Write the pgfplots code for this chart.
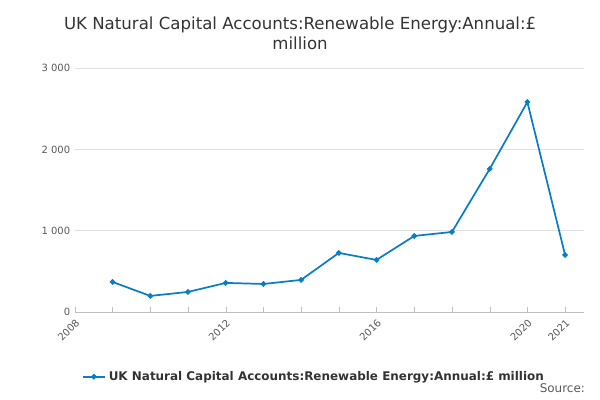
\documentclass[border=0pt]{standalone}
\usepackage{pgfplots}
\pgfplotsset{compat=1.18}
\usepackage{fontspec}
\setmainfont{DejaVu Sans}
\definecolor{ln}{HTML}{0A7EC2}
\begin{document}
\begin{tikzpicture}
\path[use as bounding box] (0,0) rectangle (15.875cm,10.583cm);
\node[align=center,font=\fontsize{12.5}{15}\selectfont,text=black!80] at (7.94cm,9.7cm) {UK Natural Capital Accounts:Renewable Energy:Annual:£\\million};
\begin{axis}[at={(1.98cm,2.33cm)},anchor=south west,width=13.47cm,height=6.45cm,scale only axis,
 xmin=2008,xmax=2021.5,ymin=0,ymax=3000,
 xtick={2008,2012,2016,2020,2021},xticklabels={2008,2012,2016,2020,2021},
 minor xtick={2009,2010,2011,2013,2014,2015,2017,2018,2019},
 ytick={0,1000,2000,3000},yticklabels={0,1 000,2 000,3 000},
 ymajorgrids,grid style={black!12},
 axis y line*=left,axis x line*=bottom,
 y axis line style={draw=none},
 x axis line style={black!25},
 major tick length=4pt,minor tick length=4pt,
 xtick style={black!25},ytick style={draw=none},
 minor tick style={black!25},
 xticklabel style={rotate=45,anchor=north east,font=\fontsize{7.5}{9}\selectfont,text=black!65},
 yticklabel style={font=\fontsize{7.5}{9}\selectfont,text=black!65},
 /pgf/number format/assume math mode=true,
 legend style={at={(0.47,-0.22)},anchor=north,draw=none,font=\bfseries\small,text=black!80},
 clip=false]
\addplot[ln,line width=1.3pt,mark=*,mark size=1.4pt] coordinates {(2009,369)(2010,197)(2011,246)(2012,357)(2013,344)(2014,394)(2015,726)(2016,640)(2017,935)(2018,984)(2019,1759)(2020,2583)(2021,701)};
\addlegendentry{UK Natural Capital Accounts:Renewable Energy:Annual:£ million}
\end{axis}
\node[font=\small,text=black!65,anchor=east] at (15.6cm,0.3cm) {Source:};
\end{tikzpicture}
\end{document}
